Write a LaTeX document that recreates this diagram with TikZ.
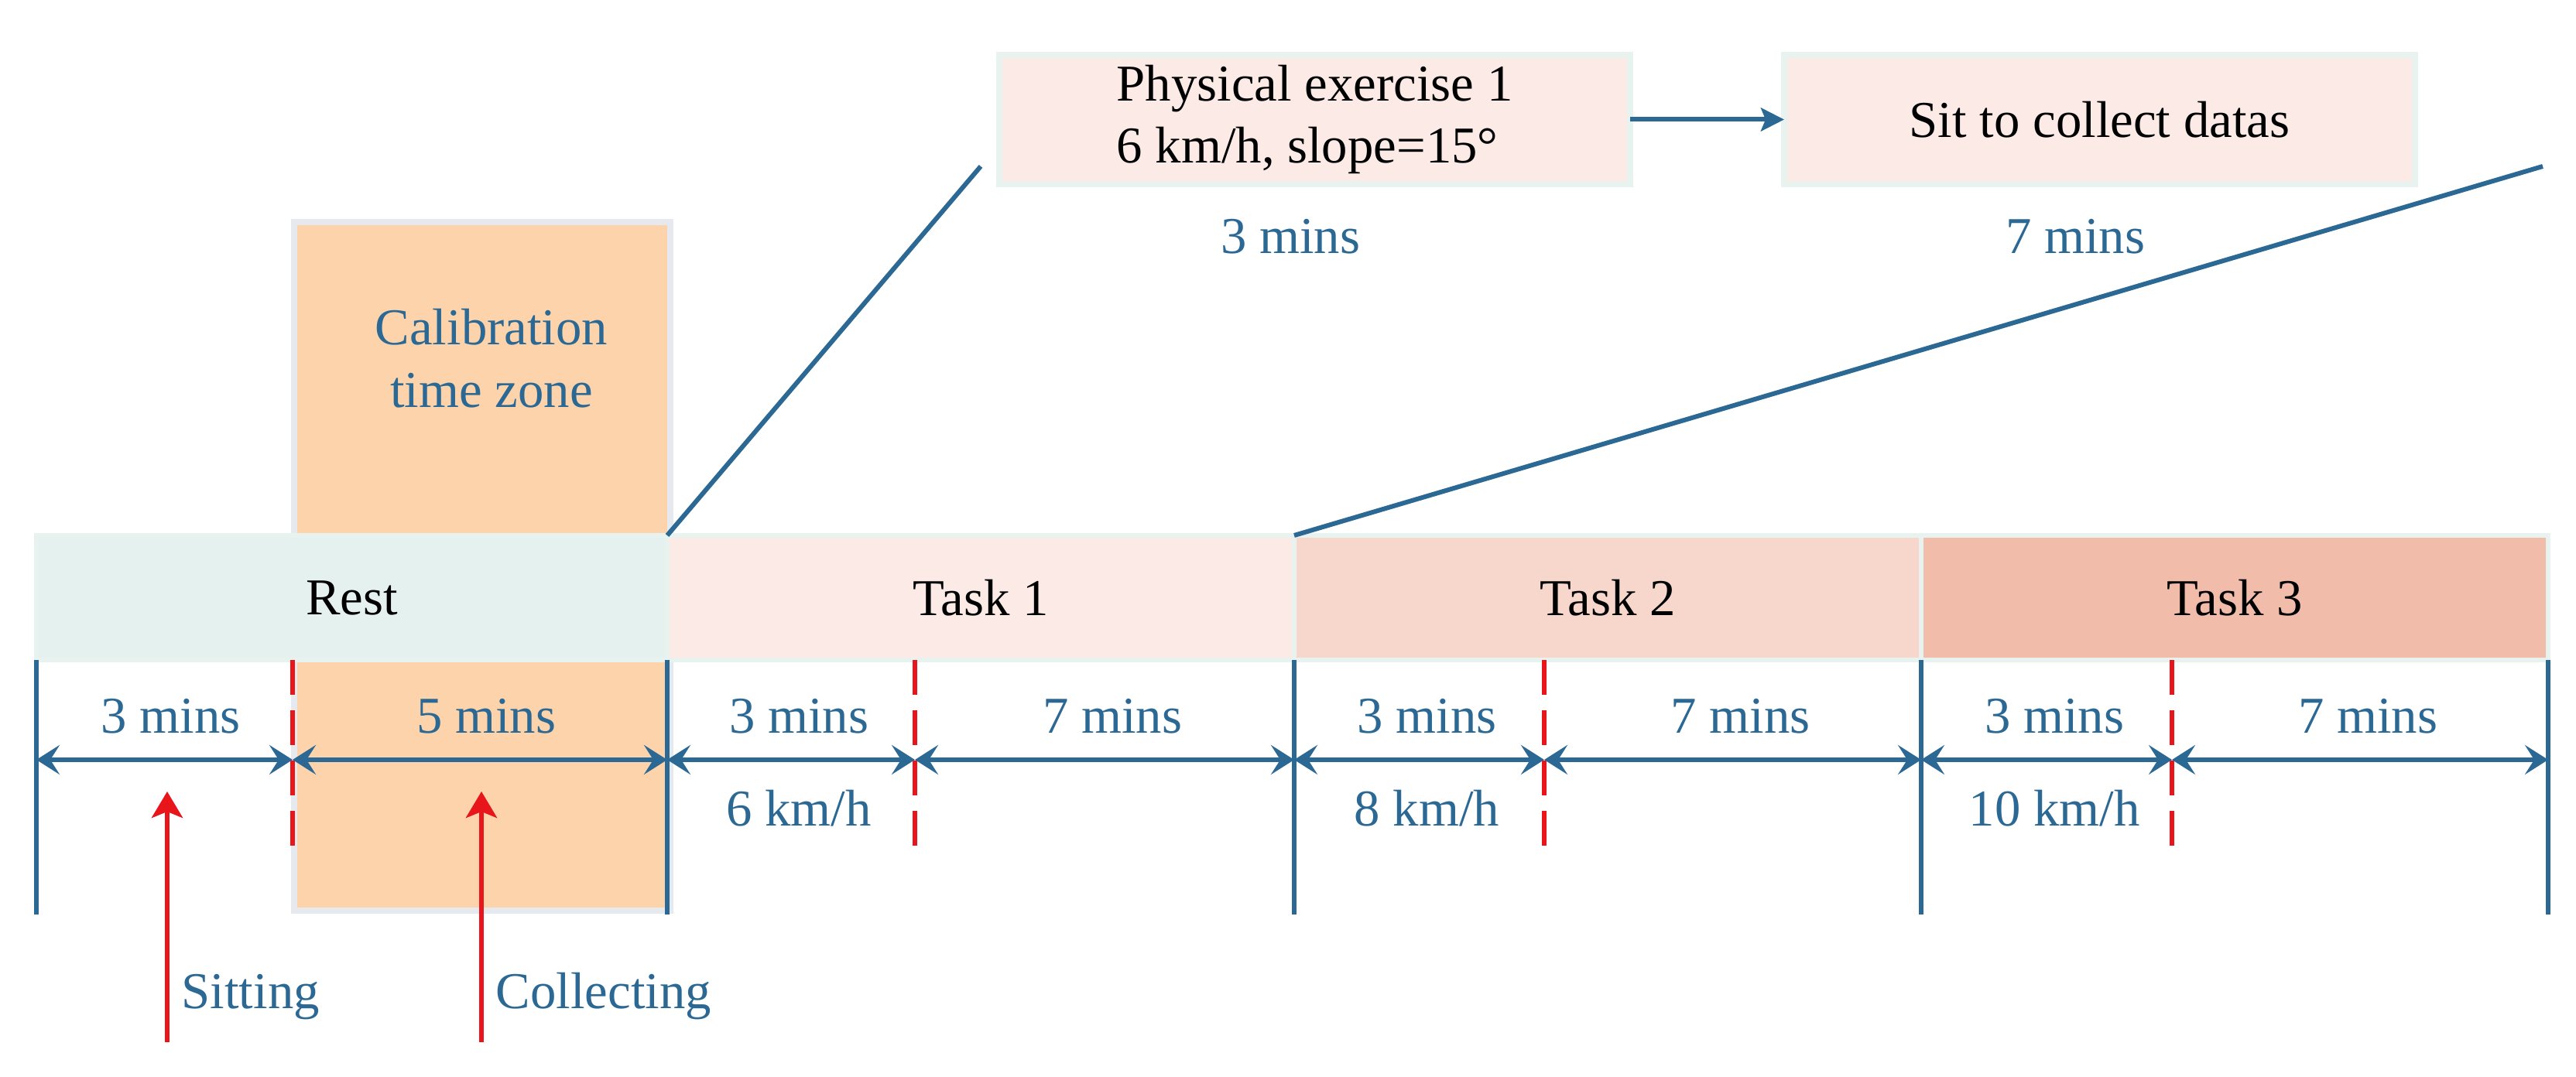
\documentclass[tikz,border=0pt]{standalone}
\usepackage{fontspec}
\setmainfont{Liberation Serif}
\usetikzlibrary{positioning,arrows.meta,calc}

\definecolor{lineblue}{HTML}{2B6894}
\definecolor{markred}{HTML}{E8151B}
\definecolor{restfill}{HTML}{E4F1EE}
\definecolor{taskone}{HTML}{FBEAE5}
\definecolor{tasktwo}{HTML}{F7D6CB}
\definecolor{taskthree}{HTML}{F2BCAA}
\definecolor{calibfill}{HTML}{FCD3AA}
\definecolor{calibrim}{HTML}{E6EAEE}
\definecolor{barrim}{HTML}{E8F2EF}

\tikzset{
    txt/.style={font=\fontsize{19}{23}\selectfont},
    bluetxt/.style={txt, text=lineblue},
    phasebar/.style={txt, draw=barrim, line width=1.5pt, minimum height=1.61cm, inner sep=0pt, outer sep=0pt},
    stepbox/.style={txt, fill=taskone, draw=barrim, line width=2.5pt, minimum width=8.15cm, minimum height=1.67cm, align=left, outer sep=0pt},
    timeline/.style={draw=lineblue, line width=1.7pt},
    splitline/.style={draw=markred, line width=1.5pt, dash pattern=on 4.5mm off 2mm},
    durarrow/.style={lineblue, line width=1.7pt, {Stealth[length=3mm,width=3.8mm,inset=1.2mm]}-{Stealth[length=3mm,width=3.8mm,inset=1.2mm]}},
    pointer/.style={markred, line width=1.7pt, -{Stealth[length=3.4mm,width=4mm,inset=0.8mm]}},
}

\begin{document}
\begin{tikzpicture}
    \useasboundingbox (0,0) rectangle (33.28,13.92);

    % Calibration zone behind the rest phase
    \node[fill=calibfill, draw=calibrim, line width=2.3pt, anchor=south west,
          minimum width=4.86cm, minimum height=8.9cm, inner sep=0pt] (calib) at (3.76,2.11) {};
    \node[bluetxt, align=center] (calibtxt) at (6.35,9.29) {Calibration\\time zone};

    % Phase bars
    \node[phasebar, fill=restfill, minimum width=8.15cm, anchor=south west] (rest) at (0.47,5.39) {Rest};
    \node[phasebar, fill=taskone, minimum width=8.1cm, right=0pt of rest] (task1) {Task 1};
    \node[phasebar, fill=tasktwo, minimum width=8.1cm, right=0pt of task1] (task2) {Task 2};
    \node[phasebar, fill=taskthree, minimum width=8.1cm, right=0pt of task2] (task3) {Task 3};

    % Detail of task 1
    \node[stepbox] (exer) at (16.985,12.375) {Physical exercise 1\\6 km/h, slope=15°};
    \node[stepbox, align=center, right=1.99cm of exer] (sit) {Sit to collect datas};
    \draw[lineblue, line width=1.7pt, -{Stealth[length=3mm,width=3mm,inset=0.6mm]}] (exer) -- (sit);
    \node[bluetxt, anchor=base] (exermin) at (16.67,10.64) {3 mins};
    \node[bluetxt, anchor=base] (sitmin) at (26.81,10.64) {7 mins};

    % Zoom lines
    \coordinate (zoomA) at (12.67,11.77);
    \coordinate (zoomB) at (32.85,11.77);
    \draw[timeline] (task1.north west) -- (zoomA);
    \draw[timeline] (task2.north west) -- (zoomB);

    % Phase borders below the bars
    \foreach \n/\p in {0/rest.south west,1/rest.south east,2/task1.south east,3/task2.south east,4/task3.south east}{
        \path (\p) ++(0,-1.29) coordinate (mid\n);
        \path (\p) ++(0,-3.29) coordinate (bot\n);
        \draw[timeline] (\p) -- (bot\n);
    }

    % Red split lines
    \foreach \i/\x in {0/3.78,1/11.82,2/19.95,3/28.06}{
        \coordinate (cut\i) at (\x,5.39);
        \coordinate (cutmid\i) at (\x,4.10);
        \coordinate (cutend\i) at (\x,2.89);
        \draw[splitline] (cut\i) -- (cutend\i);
    }

    % Durations
    \foreach \i [evaluate=\i as \j using int(\i+1)] in {0,...,3}{
        \draw[durarrow] (mid\i) -- (cutmid\i);
        \draw[durarrow] (cutmid\i) -- (mid\j);
    }
    \node[bluetxt, anchor=base] (restA) at ($(mid0)!0.5!(cutmid0)+(0.08,0.34)$) {3 mins};
    \node[bluetxt, anchor=base] (restB) at ($(cutmid0)!0.5!(mid1)+(0.08,0.34)$) {5 mins};
    \foreach \i/\v in {1/6,2/8,3/10}{
        \pgfmathtruncatemacro{\j}{\i+1}
        \node[bluetxt, anchor=base] (warm\i) at ($(mid\i)!0.5!(cutmid\i)+(0.1,0.34)$) {3 mins};
        \node[bluetxt, anchor=base] (cool\i) at ($(cutmid\i)!0.5!(mid\j)+(0.1,0.34)$) {7 mins};
        \node[bluetxt, anchor=base] (speed\i) at ($(mid\i)!0.5!(cutmid\i)+(0.1,-0.86)$) {\v\ km/h};
    }

    % Sitting and collecting markers
    \coordinate (sitfoot) at (2.16,0.45);
    \coordinate (sittip) at (2.16,3.69);
    \coordinate (colfoot) at (6.22,0.45);
    \coordinate (coltip) at (6.22,3.69);
    \draw[pointer] (sitfoot) -- (sittip);
    \draw[pointer] (colfoot) -- (coltip);
    \node[bluetxt, anchor=base west, inner xsep=0pt] (sitting) at (2.34,0.88) {Sitting};
    \node[bluetxt, anchor=base west, inner xsep=0pt] (collecting) at (6.40,0.88) {Collecting};
\end{tikzpicture}
\end{document}
